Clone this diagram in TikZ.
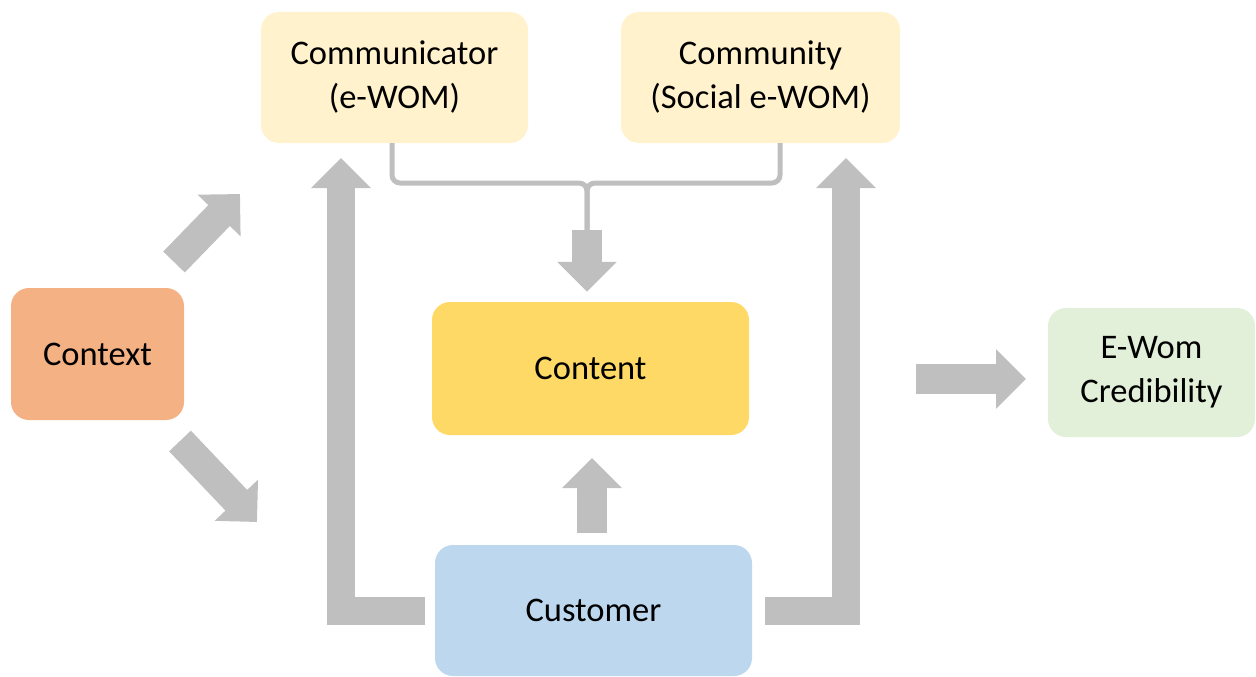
\documentclass[tikz,border=0pt]{standalone}
\usepackage{fontspec}
\setmainfont{Carlito}
\usetikzlibrary{arrows.meta}
\definecolor{paleyellow}{HTML}{FFF2CC}
\definecolor{orangebox}{HTML}{F4B183}
\definecolor{goldbox}{HTML}{FFD966}
\definecolor{bluebox}{HTML}{BDD7EE}
\definecolor{greenbox}{HTML}{E2F0D9}
\definecolor{arrgray}{HTML}{BFBFBF}
\tikzset{
  box/.style={rounded corners=18pt, inner sep=0pt, align=center,
    font=\fontsize{34.5}{44}\selectfont, text=black},
  fat/.style={draw=arrgray, line width=30pt, line join=miter,
    -{Triangle[width=58pt,length=30pt]}},
  fatL/.style={fat, line width=28pt},
  bracket/.style={draw=arrgray, line width=5pt, rounded corners=8pt}
}
\begin{document}
\begin{tikzpicture}[x=1pt,y=-1pt]
\useasboundingbox (0,0) rectangle (1256,677);
% boxes
\node[box, fill=paleyellow, minimum width=267pt, minimum height=131pt] (comm) at (394.5,77.5) {Communicator\\(e-WOM)};
\node[box, fill=paleyellow, minimum width=279pt, minimum height=131pt] (cmty) at (760.5,77.5) {Community\\(Social e-WOM)};
\node[box, fill=orangebox, minimum width=173pt, minimum height=132pt] (ctx) at (97.5,354) {Context};
\node[box, fill=goldbox, minimum width=317pt, minimum height=133pt] (cont) at (590.5,368.5) {Content};
\node[box, fill=bluebox, minimum width=317pt, minimum height=131pt] (cust) at (593.5,610.5) {Customer};
\node[box, fill=greenbox, minimum width=207pt, minimum height=129pt] (cred) at (1151.5,372.5) {E-Wom\\Credibility};
% anchor points for the arrows
\coordinate (bl) at (392,143);
\coordinate (br) at (780,143);
\coordinate (bm) at (587,183);
\coordinate (bstem) at (587,230);
\coordinate (lTip) at (341,158);
\coordinate (rTip) at (846,158);
\coordinate (upTail) at (592,533);
\coordinate (upTip) at (592,458);
% bracket from the two upper boxes into the content arrow
\draw[bracket] (bl) |- (bm) -- (bstem);
\draw[bracket] (br) |- (bm) -- (bstem);
\draw[fat] (bstem) -- ([yshift=10pt]cont.north -| bstem);
% customer feedback loops
\draw[fatL] ([xshift=-10pt]cust.west) -| (lTip);
\draw[fatL] ([xshift=13pt]cust.east) -| (rTip);
\draw[fat] (upTail) -- (upTip);
% context influences
\draw[fat] (174,262) -- (240,194);
\draw[fat] (180,441) -- (257,522);
% towards credibility
\draw[fat] (916,379) -- (1026,379);
\end{tikzpicture}
\end{document}
